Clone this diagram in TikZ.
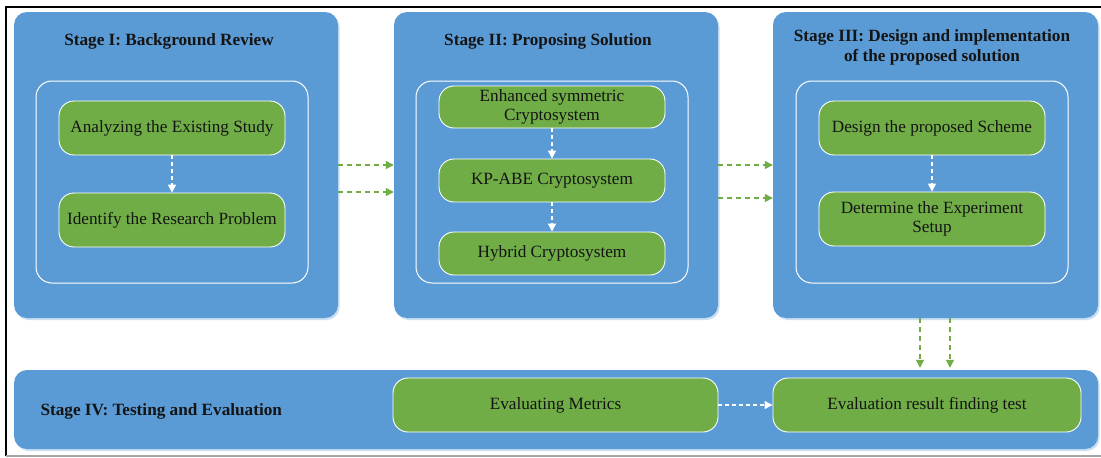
\documentclass[tikz,border=0pt]{standalone}
\usepackage{fontspec}
\setmainfont{Liberation Serif}
\usetikzlibrary{arrows.meta,shadows}
\definecolor{stageblue}{HTML}{5B9BD5}
\definecolor{taskgreen}{HTML}{70AD47}
\definecolor{halo}{HTML}{BDD7EE}
\definecolor{ink}{HTML}{141414}
\tikzset{
  stagebox/.style={draw=none, fill=stageblue, rounded corners=13pt,
    drop shadow={fill=halo, opacity=0.8, shadow xshift=1.5pt, shadow yshift=-2pt}},
  innerframe/.style={draw=white, line width=1pt, fill=none, rounded corners=16pt},
  taskbox/.style={draw=white, line width=0.9pt, fill=taskgreen, rounded corners=15pt,
    minimum width=226pt, align=center, text=ink, inner sep=2pt,
    font=\fontsize{17.2}{19}\selectfont},
  stagetitle/.style={text=ink, align=center, font=\bfseries\fontsize{17.2}{20}\selectfont},
  flowarrow/.style={draw=taskgreen, line width=1.3pt, dash pattern=on 5pt off 4pt,
    -{Triangle[width=8pt,length=8pt]}},
  steparrow/.style={draw=white, line width=1.3pt, dash pattern=on 4pt off 3pt,
    -{Triangle[width=8pt,length=8pt]}}
}
\begin{document}
\begin{tikzpicture}[x=1pt, y=-1pt]
\useasboundingbox (0,0) rectangle (1101,458);
\fill[white] (0,0) rectangle (1101,458);

% page frame
\draw[black, line width=1.6pt] (1101,7) -- (6,7) -- (6,456);
\draw[gray!70, line width=1.6pt] (6,456) -- (1101,456);

% stage containers
\node[stagebox, minimum width=324pt, minimum height=306pt] (s1) at (176,165) {};
\node[stagebox, minimum width=324pt, minimum height=306pt] (s2) at (556,165) {};
\node[stagebox, minimum width=325pt, minimum height=306pt] (s3) at (935.5,165) {};
\node[stagebox, minimum width=1084pt, minimum height=79pt] (s4) at (556,409.5) {};

% inner frames
\node[innerframe, minimum width=272pt, minimum height=202pt] (f1) at (172,182) {};
\node[innerframe, minimum width=272pt, minimum height=202pt] (f2) at (552,182) {};
\node[innerframe, minimum width=272pt, minimum height=202pt] (f3) at (932,182) {};

% stage titles
\node[stagetitle] (t1) at (169,41) {Stage I: Background Review};
\node[stagetitle] (t2) at (548,41) {Stage II: Proposing Solution};
\node[stagetitle] (t3) at (932,47) {Stage III: Design and implementation\\of the proposed solution};
\node[stagetitle, anchor=west] (t4) at (37,411) {Stage IV: Testing and Evaluation};

% Stage I tasks
\node[taskbox, minimum height=54pt] (a1) at (172,128) {Analyzing the Existing Study};
\node[taskbox, minimum height=54pt] (a2) at (172,220) {Identify the Research Problem};
\draw[steparrow] (a1) -- (a2);

% Stage II tasks
\node[taskbox, minimum height=42pt] (b1) at (552,107) {Enhanced symmetric\\Cryptosystem};
\node[taskbox, minimum height=43pt] (b2) at (552,180.5) {KP-ABE Cryptosystem};
\node[taskbox, minimum height=43pt] (b3) at (552,253.5) {Hybrid Cryptosystem};
\draw[steparrow] (b1) -- (b2);
\draw[steparrow] (b2) -- (b3);

% Stage III tasks
\node[taskbox, minimum height=54pt] (c1) at (932,128) {Design the proposed Scheme};
\node[taskbox, minimum height=54pt] (c2) at (932,219) {Determine the Experiment\\Setup};
\draw[steparrow] (c1) -- (c2);

% Stage IV tasks
\node[taskbox, minimum width=325pt, minimum height=54pt] (d1) at (555.5,405) {Evaluating Metrics};
\node[taskbox, minimum width=308pt, minimum height=54pt] (d2) at (927,405) {Evaluation result finding test};
\draw[steparrow] (d1) -- (d2);

% transitions between stages
\draw[flowarrow] (s1.east) -- (s2.west);
\draw[flowarrow] ([yshift=-27pt]s1.east) -- ([yshift=-27pt]s2.west);
\draw[flowarrow] (s2.east) -- (s3.west);
\draw[flowarrow] ([yshift=-33pt]s2.east) -- ([yshift=-33pt]s3.west);
\coordinate (v1) at ([xshift=-15.5pt]s3.south);
\coordinate (v2) at ([xshift=14.5pt]s3.south);
\draw[flowarrow] (v1) -- ([yshift=2pt]v1 |- s4.north);
\draw[flowarrow] (v2) -- ([yshift=2pt]v2 |- s4.north);
\end{tikzpicture}
\end{document}
